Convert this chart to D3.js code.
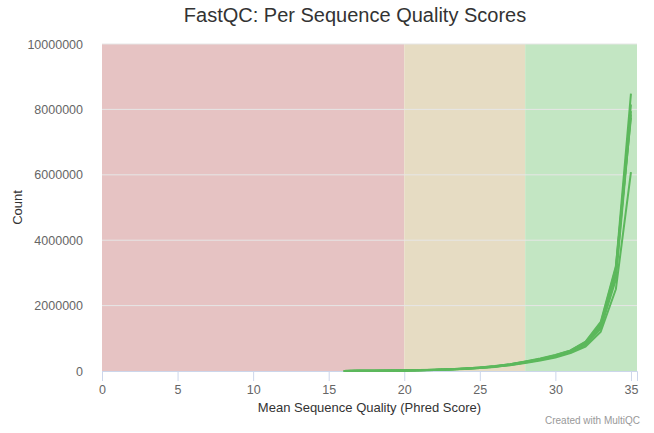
<!DOCTYPE html>
<html><head><meta charset="utf-8">
<script src="https://cdn.jsdelivr.net/npm/d3@7"></script>
<style>body{margin:0;background:#fff}svg{font-family:"Liberation Sans",Arial,sans-serif}</style>
</head><body><div id="chart"></div>
<script>
const xValues = [16,17,18,19,20,21,22,23,24,25,26,27,28,29,30,31,32,33,34,35];
const sampleA = [3e3,5e3,8e3,12e3,18e3,26e3,36e3,52e3,74e3,105e3,145e3,205e3,285e3,370e3,480e3,620e3,880e3,1450e3,3150e3,8480e3];
const sampleB = [3e3,5e3,8e3,12e3,17e3,25e3,35e3,50e3,72e3,100e3,140e3,198e3,275e3,360e3,465e3,600e3,850e3,1400e3,3050e3,8150e3];
const sampleC = [3e3,5e3,7e3,11e3,17e3,24e3,34e3,49e3,70e3,98e3,137e3,192e3,268e3,350e3,455e3,580e3,820e3,1350e3,2950e3,7950e3];
const sampleD = [3e3,5e3,8e3,12e3,18e3,27e3,37e3,53e3,76e3,108e3,150e3,210e3,292e3,380e3,490e3,630e3,900e3,1500e3,3200e3,7750e3];
const sampleE = [2e3,4e3,7e3,10e3,15e3,22e3,31e3,45e3,64e3,90e3,126e3,176e3,245e3,320e3,415e3,550e3,750e3,1200e3,2500e3,6080e3];
const sampleF = [3e3,4e3,7e3,11e3,16e3,23e3,33e3,47e3,67e3,95e3,132e3,185e3,258e3,340e3,440e3,570e3,800e3,1300e3,2800e3,7850e3];
const samples = [sampleA, sampleB, sampleC, sampleD, sampleE, sampleF];
const xTicks = [0,5,10,15,20,25,30,35];
const yTicks = [0,2000000,4000000,6000000,8000000,10000000];
const bands = [{from:0,to:20,color:"#e6c3c3"},{from:20,to:28,color:"#e6dcc3"},{from:28,to:35.4,color:"#c3e6c3"}];

const W=654,H=433;
const svg=d3.select("#chart").append("svg").attr("width",W).attr("height",H);
const x=d3.scaleLinear().domain([0,35.4]).range([102,637]);
const y=d3.scaleLinear().domain([0,10000000]).range([371,44]);

svg.append("text").attr("x",355).attr("y",22).attr("text-anchor","middle")
  .attr("font-size",20).attr("fill","#333").text("FastQC: Per Sequence Quality Scores");

svg.selectAll("rect.band").data(bands).enter().append("rect")
  .attr("x",d=>x(d.from)).attr("width",d=>x(d.to)-x(d.from))
  .attr("y",y(10000000)).attr("height",y(0)-y(10000000)).attr("fill",d=>d.color);

svg.selectAll("line.grid").data(yTicks.slice(1)).enter().append("line")
  .attr("x1",x(0)).attr("x2",x(35.4)).attr("y1",d=>y(d)).attr("y2",d=>y(d))
  .attr("stroke","#e6e6e6").attr("stroke-width",1);

const yAxis=svg.append("g").attr("transform",`translate(${x(0)-16},0)`)
  .call(d3.axisLeft(y).tickValues(yTicks).tickSize(0).tickFormat(d3.format("d")));
yAxis.select(".domain").remove();
yAxis.selectAll("text").attr("fill","#666").attr("font-size",12.5).attr("font-family","Liberation Sans,Arial,sans-serif");

const xAxis=svg.append("g").attr("transform",`translate(0,${y(0)})`)
  .call(d3.axisBottom(x).tickValues(xTicks).tickSize(10).tickPadding(4));
xAxis.select(".domain").attr("stroke","#ccd6eb");
xAxis.selectAll(".tick line").attr("stroke","#ccd6eb");
xAxis.selectAll("text").attr("fill","#666").attr("font-size",12.5).attr("font-family","Liberation Sans,Arial,sans-serif");

const line=d3.line().x((d,i)=>x(xValues[i])).y(d=>y(d));
svg.selectAll("path.s").data(samples).enter().append("path")
  .attr("d",line).attr("fill","none").attr("stroke","#5cb85c").attr("stroke-width",2).attr("stroke-linejoin","round");

svg.append("text").attr("x",(x(0)+x(35.4))/2).attr("y",412).attr("text-anchor","middle")
  .attr("font-size",13).attr("fill","#333").text("Mean Sequence Quality (Phred Score)");
svg.append("text").attr("transform",`translate(22,${(y(0)+y(10000000))/2}) rotate(-90)`)
  .attr("text-anchor","middle").attr("font-size",13).attr("fill","#333").text("Count");
svg.append("text").attr("x",640).attr("y",424).attr("text-anchor","end")
  .attr("font-size",10).attr("fill","#999").text("Created with MultiQC");
</script></body></html>
